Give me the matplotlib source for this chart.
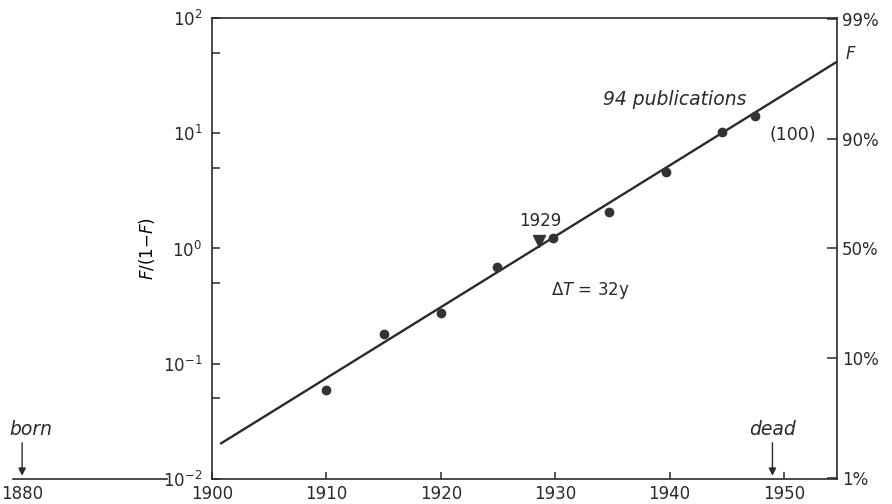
import numpy as np
import matplotlib.pyplot as plt
from matplotlib.ticker import FixedLocator, NullFormatter, FixedFormatter

# data
years = [1910, 1915, 1920, 1924.9, 1929.8, 1934.7, 1939.7, 1944.6, 1947.5]
ratio = [0.059, 0.180, 0.275, 0.695, 1.24, 2.09, 4.58, 10.2, 14.1]
first_year, first_ratio = 1928.6, 1.16
fit_years = [1900.8, 1954.6]
fit_ratio = [0.0204, 41.5]
xticks = [1900, 1910, 1920, 1930, 1940, 1950]
pct = [1, 10, 50, 90, 99]
pct_labels = ['1%', '10%', '50%', '90%', '99%']
born_year, dead_year = 1880, 1949

ink = '#2a2a2a'
plt.rcParams['font.family'] = ['DejaVu Sans']
plt.rcParams['font.size'] = 12

fig = plt.figure(figsize=(8.92, 5.04), dpi=100)
left, bottom = 212 / 892, 1 - 479 / 504
width, height = (836.5 - 212) / 892, (479 - 18) / 504
ax = fig.add_axes([left, bottom, width, height])

ax.set_yscale('log')
ax.set_ylim(1e-2, 1e2)
ax.set_xlim(1900, 1954.6)

ax.plot(fit_years, fit_ratio, color=ink, lw=1.7)
ax.plot(years, ratio, 'o', color='#333333', ms=6)
ax.plot([first_year], [first_ratio], 'v', color='#333333', ms=8)

for s in ax.spines.values():
    s.set_linewidth(1.2)
    s.set_color(ink)

ax.xaxis.set_major_locator(FixedLocator(xticks))
ax.set_xticklabels([str(y) for y in xticks])
ax.tick_params(axis='x', direction='in', length=5, width=1.1, pad=4, colors=ink)
ax.yaxis.set_major_locator(FixedLocator([1e-2, 1e-1, 1, 10, 100]))
ax.yaxis.set_minor_locator(FixedLocator([5e-2, 5e-1, 5, 50]))
ax.yaxis.set_minor_formatter(NullFormatter())
ax.tick_params(axis='y', which='both', direction='in', length=6, width=1.1, pad=7, colors=ink)
ax.set_ylabel(r'$F$/(1$-$$F$)', fontsize=12, labelpad=4)

# right axis: cumulative fraction F
axr = ax.twinx()
axr.set_yscale('log')
axr.set_ylim(ax.get_ylim())
axr.yaxis.set_major_locator(FixedLocator([p / (100 - p) for p in pct]))
axr.yaxis.set_major_formatter(FixedFormatter(pct_labels))
axr.yaxis.set_minor_locator(FixedLocator([]))
axr.tick_params(axis='y', direction='in', length=7, width=1.1, pad=4, colors=ink, labelsize=12)
for s in axr.spines.values():
    s.set_visible(False)
axr.text(1.015, 0.912, 'F', transform=ax.transAxes, fontsize=12, style='italic', color=ink)

# annotations
ax.text(1928.7, 1.45, '1929', ha='center', va='bottom', fontsize=12, color=ink)
ax.text(1933.1, 0.43, r'$\Delta T$ = 32y', ha='center', va='center', fontsize=12, color=ink)
ax.text(1934.2, 19.5, '94 publications', ha='left', va='center', fontsize=13.5,
        style='italic', color=ink)
ax.text(1952.8, 9.66, '(100)', ha='right', va='center', fontsize=12.5, color=ink)
ax.annotate('', xy=(dead_year, 0.0101), xytext=(dead_year, 0.0218),
            arrowprops=dict(arrowstyle='-|>', color=ink, lw=1.0, mutation_scale=11))
ax.text(dead_year, 0.0241, 'dead', ha='center', va='baseline', fontsize=13.5,
        style='italic', color=ink)

# broken axis segment with birth year
ax0 = fig.add_axes([13 / 892, bottom, 154 / 892, height])
ax0.set_yscale('log')
ax0.set_ylim(1e-2, 1e2)
ax0.set_xlim(1879.2, 1892.7)
for k in ['top', 'left', 'right']:
    ax0.spines[k].set_visible(False)
ax0.spines['bottom'].set_linewidth(1.2)
ax0.spines['bottom'].set_color(ink)
ax0.set_yticks([])
ax0.yaxis.set_minor_locator(FixedLocator([]))
ax0.xaxis.set_major_locator(FixedLocator([born_year]))
ax0.set_xticklabels([str(born_year)])
ax0.tick_params(axis='x', length=0, pad=4, colors=ink)
ax0.patch.set_visible(False)
ax0.annotate('', xy=(born_year, 0.0101), xytext=(born_year, 0.0218),
             arrowprops=dict(arrowstyle='-|>', color=ink, lw=1.0, mutation_scale=11))
ax0.text(born_year + 0.8, 0.0241, 'born', ha='center', va='baseline', fontsize=13.5,
         style='italic', color=ink)

fig.savefig('out.png', dpi=100)
